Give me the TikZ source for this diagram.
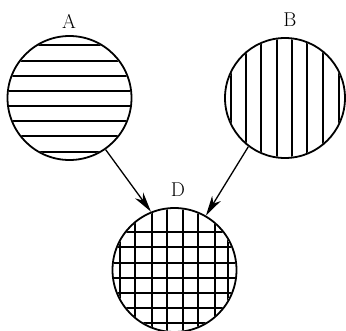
\documentclass[tikz,border=0pt]{standalone}
\usetikzlibrary{arrows.meta}
\begin{document}
\begin{tikzpicture}[x=1pt,y=-1pt,
  disc/.style={circle,draw,line width=1.8pt,minimum size=124pt,inner sep=0pt},
  hatch/.style={line width=1.7pt},
  lbl/.style={font=\fontsize{20}{22}\selectfont},
  conn/.style={line width=1.3pt,-{Stealth[length=20pt,width=10pt,inset=6pt]}}]
\useasboundingbox (0,0) rectangle (346,330);
\node[disc] (A) at (69.5,98) {};
\node[disc,minimum size=120pt] (B) at (285,98) {};
\node[disc] (D) at (174.5,270) {};
\node[lbl] (la) at (69,21) {A};
\node[lbl] (lb) at (290,20) {B};
\node[lbl] (ld) at (178,190) {D};
\begin{scope}
  \clip (69.5,98) circle (61);
  \foreach \y in {45,61,76,91,106,121,136,152} \draw[hatch] (0,\y) -- (140,\y);
\end{scope}
\begin{scope}
  \clip (285,98) circle (59);
  \foreach \x in {231,246,261,277,292,307,323,339} \draw[hatch] (\x,30) -- (\x,170);
\end{scope}
\begin{scope}
  \clip (174.5,270) circle (61);
  \foreach \x in {120,135,152,167,183,198,215,228} \draw[hatch] (\x,200) -- (\x,340);
  \foreach \y in {232,247,263,278,293,308,323} \draw[hatch] (100,\y) -- (250,\y);
\end{scope}
\draw[conn] (A.-55) -- (D.112);
\draw[conn] (B.-127) -- (D.60);
\end{tikzpicture}
\end{document}
